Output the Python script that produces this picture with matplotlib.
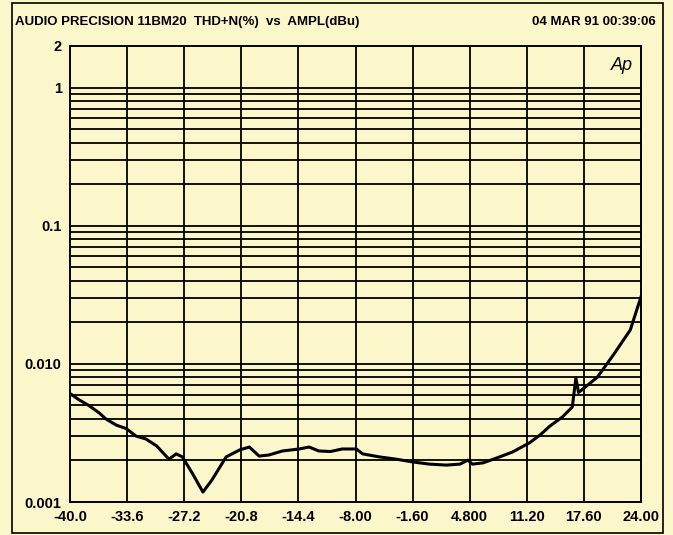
import matplotlib.pyplot as plt
from matplotlib.patches import Rectangle
import numpy as np

# Datos (AMPL en dBu, THD+N en %)
ampl_dbu = [-40.0, -39.0, -37.9, -36.7, -36.0, -34.8, -33.7, -32.6, -31.5,
            -30.3, -28.9, -28.1, -27.4, -26.3, -25.1, -24.1, -22.5, -21.0,
            -19.9, -18.8, -17.7, -16.2, -14.3, -13.2, -12.1, -10.8, -9.5,
            -7.9, -7.2, -5.3, -3.4, -1.6, 0.3, 2.2, 3.7, 4.6, 5.1, 6.3,
            7.8, 9.6, 11.5, 12.7, 13.8, 15.2, 16.3, 16.7, 17.0, 19.1,
            20.9, 22.8, 24.0]
thd_pct = [0.0061, 0.0055, 0.0050, 0.0044, 0.0040, 0.0036, 0.0034, 0.0030,
           0.00286, 0.00255, 0.00204, 0.00223, 0.00212, 0.00162, 0.00118,
           0.00144, 0.00212, 0.00238, 0.0025, 0.00215, 0.00219, 0.00234,
           0.00242, 0.0025, 0.00234, 0.00232, 0.00242, 0.00242, 0.00223,
           0.00212, 0.00204, 0.00195, 0.00188, 0.00185, 0.00188, 0.00201,
           0.00188, 0.00192, 0.00208, 0.0023, 0.00268, 0.00306, 0.00355,
           0.00413, 0.00488, 0.0079, 0.0062, 0.0080, 0.0116, 0.0176, 0.0306]

x_ticks = [-40.0, -33.6, -27.2, -20.8, -14.4, -8.0, -1.6, 4.8, 11.2, 17.6, 24.0]
x_labels = ['-40.0', '-33.6', '-27.2', '-20.8', '-14.4', '-8.00', '-1.60',
            '4.800', '11.20', '17.60', '24.00']
y_ticks = [0.001, 0.01, 0.1, 1, 2]
y_labels = ['0.001', '0.010', '0.1', '1', '2']

fondo = '#fcf6cb'
plt.rcParams['font.family'] = ['Liberation Sans', 'DejaVu Sans']
plt.rcParams['font.weight'] = 'bold'

fig = plt.figure(figsize=(6.73, 5.35), dpi=100, facecolor=fondo)
W, H = 673, 535
ax = fig.add_axes([70 / W, 1 - 502 / H, (641 - 70) / W, (502 - 46) / H])
ax.set_facecolor(fondo)

# marco exterior
fig.patches.append(Rectangle((12 / W, 1 - 533 / H), (663 - 12) / W, (533 - 3) / H,
                             transform=fig.transFigure, fill=False,
                             edgecolor='black', linewidth=1.2))

ax.set_yscale('log')
ax.set_xlim(-40, 24)
ax.set_ylim(0.001, 2)

# rejilla: verticales en cada tick, horizontales en 1..9 de cada decada (hasta 1)
for xv in x_ticks[1:-1]:
    ax.axvline(xv, color='black', linewidth=1.3)
for dec in [0.001, 0.01, 0.1]:
    for m in range(2, 10):
        ax.axhline(dec * m, color='black', linewidth=1.3)
    ax.axhline(dec * 10, color='black', linewidth=1.3)

ax.plot(ampl_dbu, thd_pct, color='black', linewidth=2.2)

ax.set_xticks(x_ticks)
ax.set_xticklabels(x_labels)
ax.set_yticks(y_ticks)
ax.set_yticklabels(y_labels)
ax.minorticks_off()
ax.tick_params(length=0, labelsize=10.5, pad=6)
for s in ax.spines.values():
    s.set_linewidth(1.4)

fig.text(15 / W, 1 - 22 / H, 'AUDIO PRECISION 11BM20  THD+N(%)  vs  AMPL(dBu)',
         fontsize=9.5, fontweight='bold', va='center', ha='left')
fig.text(656 / W, 1 - 22 / H, '04 MAR 91 00:39:06',
         fontsize=9.5, fontweight='bold', va='center', ha='right')
ax.text(0.985, 0.975, 'Ap', transform=ax.transAxes, ha='right', va='top',
        fontsize=13, fontstyle='italic', fontweight='normal')

fig.savefig('out.png', dpi=100, facecolor=fondo)
